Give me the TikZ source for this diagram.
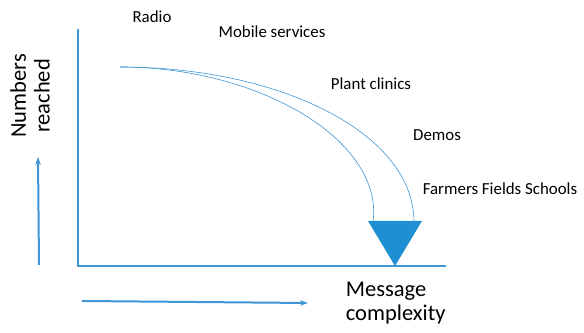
\documentclass[tikz,border=0pt]{standalone}
\usepackage{fontspec}
\setmainfont{Carlito}
\usetikzlibrary{arrows.meta}
\definecolor{axisblue}{RGB}{62,150,212}
\definecolor{fillblue}{RGB}{30,143,210}
\begin{document}
\begin{tikzpicture}
                    \useasboundingbox (0,0) rectangle (14.600000,8.325000);
                    {\fontsize{12}{14}\selectfont

                    % Marking axis corners
                    \coordinate (top) at (1.950000,7.600000);%
                    \coordinate (origin) at (1.950000,1.675000);%
                    \coordinate (right) at (11.150000,1.675000);%

                    % Drawing axes
                    \draw [axisblue, line width=0.05cm] (top) -- (origin) -- (right);%

                    % Drawing arrow up
                    \coordinate (upstart) at (0.975000,1.700000);%
                    \coordinate (upend) at (0.950000,4.400000);%
                    \draw [axisblue, line width=0.05cm, -{Stealth[length=0.2cm,width=0.14cm]}] (upstart) -- (upend);%

                    % Drawing arrow right
                    \coordinate (rightstart) at (2.050000,0.800000);%
                    \coordinate (rightend) at (7.700000,0.750000);%
                    \draw [axisblue, line width=0.05cm, -{Stealth[length=0.2cm,width=0.14cm]}] (rightstart) -- (rightend);%

                    % Marking triangle corners
                    \coordinate (triA) at (9.200000,2.800000);%
                    \coordinate (triB) at (10.550000,2.800000);%
                    \coordinate (triC) at (9.875000,1.675000);%
                    \fill [fillblue] (triA) -- (triB) -- (triC) -- cycle;%

                    % Drawing curves
                    \coordinate (curvestart) at (3.000000,6.650000);%
                    \coordinate (innerend) at (9.325000,2.775000);%
                    \coordinate (outerend) at (10.350000,2.775000);%
                    \draw [axisblue, line width=0.015cm] (curvestart) .. controls (6.500000,6.650000) and (9.600000,4.800000) .. (innerend);%
                    \draw [axisblue, line width=0.015cm] (curvestart) .. controls (7.000000,6.650000) and (10.350000,5.000000) .. (outerend);%

                    % Marking labels
                    \node (radio) at (3.800000,7.900000) {Radio};%
                    \node (mobile) at (6.800000,7.525000) {Mobile services};%
                    \node (plant) at (9.275000,6.225000) {Plant clinics};%
                    \node (demos) at (10.925000,4.950000) {Demos};%
                    \node (schools) at (12.500000,3.600000) {Farmers Fields Schools};%

                    % Marking axis titles
                    \node (numbers) [rotate=90, align=center, font=\fontsize{16}{17}\selectfont] at (0.750000,5.925000) {Numbers\\reached};%
                    \node (message) [anchor=west, align=left, font=\fontsize{16}{17}\selectfont] at (8.500000,0.750000) {Message\\complexity};%
                    }
                \end{tikzpicture}
\end{document}
